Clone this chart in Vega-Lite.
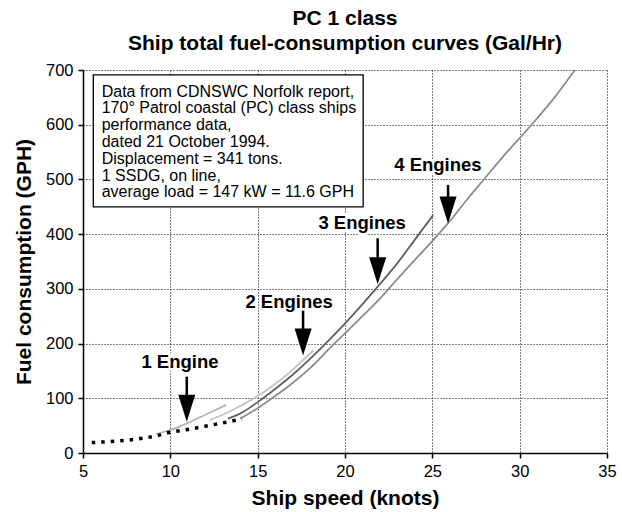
{
  "$schema": "https://vega.github.io/schema/vega-lite/v6.json",
  "width": 524,
  "height": 383,
  "autosize": {"type": "none"},
  "padding": {"left": 83, "top": 70, "right": 15, "bottom": 59},
  "background": "white",
  "config": {"view": {"stroke": null}, "font": "Liberation Sans"},
  "title": {
    "text": ["PC 1 class", "Ship total fuel-consumption curves (Gal/Hr)"],
    "fontSize": 21, "fontWeight": "bold", "font": "Liberation Sans",
    "lineHeight": 25, "anchor": "middle", "frame": "group", "offset": 8, "color": "black"
  },
  "datasets": {
    "curves": [
      {"series": "dotted", "x": 5.5, "y": 19},
      {"series": "dotted", "x": 9.15, "y": 31},
      {"series": "dotted", "x": 10, "y": 38},
      {"series": "dotted", "x": 11, "y": 43},
      {"series": "dotted", "x": 12, "y": 49},
      {"series": "dotted", "x": 13, "y": 55},
      {"series": "dotted", "x": 14.1, "y": 62},
      {"series": "1 Engine", "x": 9.2, "y": 35},
      {"series": "1 Engine", "x": 10, "y": 42},
      {"series": "1 Engine", "x": 11, "y": 55},
      {"series": "1 Engine", "x": 12, "y": 70},
      {"series": "1 Engine", "x": 13.2, "y": 88},
      {"series": "2 Engines", "x": 12.27, "y": 60},
      {"series": "2 Engines", "x": 13, "y": 70},
      {"series": "2 Engines", "x": 14, "y": 86},
      {"series": "2 Engines", "x": 15, "y": 104},
      {"series": "2 Engines", "x": 16, "y": 126},
      {"series": "2 Engines", "x": 17, "y": 152},
      {"series": "2 Engines", "x": 17.6, "y": 170},
      {"series": "2 Engines", "x": 18.2, "y": 188},
      {"series": "3 Engines", "x": 13.3, "y": 63},
      {"series": "3 Engines", "x": 14, "y": 72},
      {"series": "3 Engines", "x": 15, "y": 93},
      {"series": "3 Engines", "x": 16, "y": 117},
      {"series": "3 Engines", "x": 17, "y": 143},
      {"series": "3 Engines", "x": 18, "y": 172},
      {"series": "3 Engines", "x": 19.14, "y": 208},
      {"series": "3 Engines", "x": 20.1, "y": 240},
      {"series": "3 Engines", "x": 21, "y": 272},
      {"series": "3 Engines", "x": 21.9, "y": 305},
      {"series": "3 Engines", "x": 23, "y": 347},
      {"series": "3 Engines", "x": 24, "y": 390},
      {"series": "3 Engines", "x": 25.05, "y": 435},
      {"series": "4 Engines", "x": 14.0, "y": 63},
      {"series": "4 Engines", "x": 15, "y": 82},
      {"series": "4 Engines", "x": 16, "y": 104},
      {"series": "4 Engines", "x": 17, "y": 128},
      {"series": "4 Engines", "x": 18, "y": 155},
      {"series": "4 Engines", "x": 19.14, "y": 192},
      {"series": "4 Engines", "x": 20.1, "y": 222},
      {"series": "4 Engines", "x": 21, "y": 250},
      {"series": "4 Engines", "x": 22, "y": 282},
      {"series": "4 Engines", "x": 23, "y": 318},
      {"series": "4 Engines", "x": 24, "y": 353},
      {"series": "4 Engines", "x": 25.05, "y": 389},
      {"series": "4 Engines", "x": 25.9, "y": 420},
      {"series": "4 Engines", "x": 27.06, "y": 466},
      {"series": "4 Engines", "x": 27.9, "y": 498},
      {"series": "4 Engines", "x": 29, "y": 540},
      {"series": "4 Engines", "x": 30.68, "y": 600},
      {"series": "4 Engines", "x": 32, "y": 650},
      {"series": "4 Engines", "x": 33.16, "y": 700}
    ],
    "box": [{"x": 5.59, "x2": 21.04, "y": 691, "y2": 450}],
    "boxtext": [
      {"x": 6.07, "y": 660.4, "t": "Data from CDNSWC Norfolk report,"},
      {"x": 6.07, "y": 629.7, "t": "170° Patrol coastal (PC) class ships"},
      {"x": 6.07, "y": 599.0, "t": "performance data,"},
      {"x": 6.07, "y": 568.3, "t": "dated 21 October 1994."},
      {"x": 6.07, "y": 537.6, "t": "Displacement = 341 tons."},
      {"x": 6.07, "y": 506.9, "t": "1 SSDG, on line,"},
      {"x": 6.07, "y": 476.2, "t": "average load = 147 kW = 11.6 GPH"}
    ],
    "shafts": [
      {"x": 10.94, "y": 139.5, "y2": 100},
      {"x": 17.6, "y": 261.4, "y2": 220},
      {"x": 21.87, "y": 392.4, "y2": 352},
      {"x": 25.9, "y": 490, "y2": 462}
    ],
    "heads": [
      {"x": 10.94, "y": 81.6},
      {"x": 17.6, "y": 203},
      {"x": 21.87, "y": 333},
      {"x": 25.9, "y": 444}
    ],
    "labels": [
      {"x": 10.55, "y": 165.8, "t": "1 Engine"},
      {"x": 16.8, "y": 276.5, "t": "2 Engines"},
      {"x": 20.98, "y": 419.9, "t": "3 Engines"},
      {"x": 25.32, "y": 526.4, "t": "4 Engines"}
    ]
  },
  "encoding": {
    "x": {
      "field": "x", "type": "quantitative",
      "scale": {"domain": [5, 35], "nice": false, "zero": false},
      "axis": {
        "title": "Ship speed (knots)", "values": [5, 10, 15, 20, 25, 30, 35],
        "grid": true, "gridColor": "black", "gridDash": [1, 2], "gridWidth": 1,
        "domainColor": "black", "domainWidth": 1.5, "tickColor": "black", "tickWidth": 1.5, "tickSize": 5,
        "labelFont": "Liberation Sans", "labelFontSize": 16.5, "labelColor": "black", "labelPadding": 5, "labelFlush": false,
        "titleFont": "Liberation Sans", "titleFontSize": 21, "titleFontWeight": "bold", "titleColor": "black", "titlePadding": 8
      }
    },
    "y": {
      "field": "y", "type": "quantitative",
      "scale": {"domain": [0, 700], "nice": false},
      "axis": {
        "title": "Fuel consumption (GPH)", "values": [0, 100, 200, 300, 400, 500, 600, 700],
        "grid": true, "gridColor": "black", "gridDash": [1, 2], "gridWidth": 1,
        "domainColor": "black", "domainWidth": 1.5, "tickColor": "black", "tickWidth": 1.5, "tickSize": 5,
        "labelFont": "Liberation Sans", "labelFontSize": 16.5, "labelColor": "black", "labelPadding": 5,
        "titleFont": "Liberation Sans", "titleFontSize": 21, "titleFontWeight": "bold", "titleColor": "black", "titlePadding": 11
      }
    }
  },
  "layer": [
    {
      "data": {"name": "box"},
      "mark": {"type": "rect", "fill": "white", "stroke": "black", "strokeWidth": 1.3},
      "encoding": {"x2": {"field": "x2"}, "y2": {"field": "y2"}}
    },
    {
      "data": {"name": "boxtext"},
      "mark": {"type": "text", "align": "left", "baseline": "middle", "fontSize": 16, "color": "black", "font": "Liberation Sans"},
      "encoding": {"text": {"field": "t"}}
    },
    {
      "data": {"name": "curves"},
      "transform": [{"filter": "datum.series !== 'dotted'"}],
      "mark": {"type": "line", "strokeWidth": 1.8, "interpolate": "monotone"},
      "encoding": {
        "color": {
          "field": "series", "type": "nominal", "legend": null,
          "scale": {"domain": ["1 Engine", "2 Engines", "3 Engines", "4 Engines"], "range": ["#b3b3b3", "#c2c2c2", "#606060", "#8c8c8c"]}
        }
      }
    },
    {
      "data": {"name": "curves"},
      "transform": [{"filter": "datum.series === 'dotted'"}],
      "mark": {"type": "line", "strokeWidth": 3.5, "strokeDash": [3.5, 6], "strokeCap": "butt", "color": "black", "interpolate": "monotone"},
      "encoding": {}
    },
    {
      "data": {"name": "shafts"},
      "mark": {"type": "rule", "strokeWidth": 2.5, "color": "black"},
      "encoding": {"y2": {"field": "y2"}}
    },
    {
      "data": {"name": "heads"},
      "mark": {"type": "point", "shape": "M-0.63,-1L0.63,-1L0,1Z", "size": 729, "filled": true, "fill": "black", "strokeWidth": 0, "opacity": 1}
    },
    {
      "data": {"name": "labels"},
      "mark": {"type": "text", "align": "center", "baseline": "middle", "fontSize": 18.5, "fontWeight": "bold", "font": "Liberation Sans", "stroke": "white", "strokeWidth": 5, "fill": "white"},
      "encoding": {"text": {"field": "t"}}
    },
    {
      "data": {"name": "labels"},
      "mark": {"type": "text", "align": "center", "baseline": "middle", "fontSize": 18.5, "fontWeight": "bold", "font": "Liberation Sans", "color": "black"},
      "encoding": {"text": {"field": "t"}}
    }
  ]
}
